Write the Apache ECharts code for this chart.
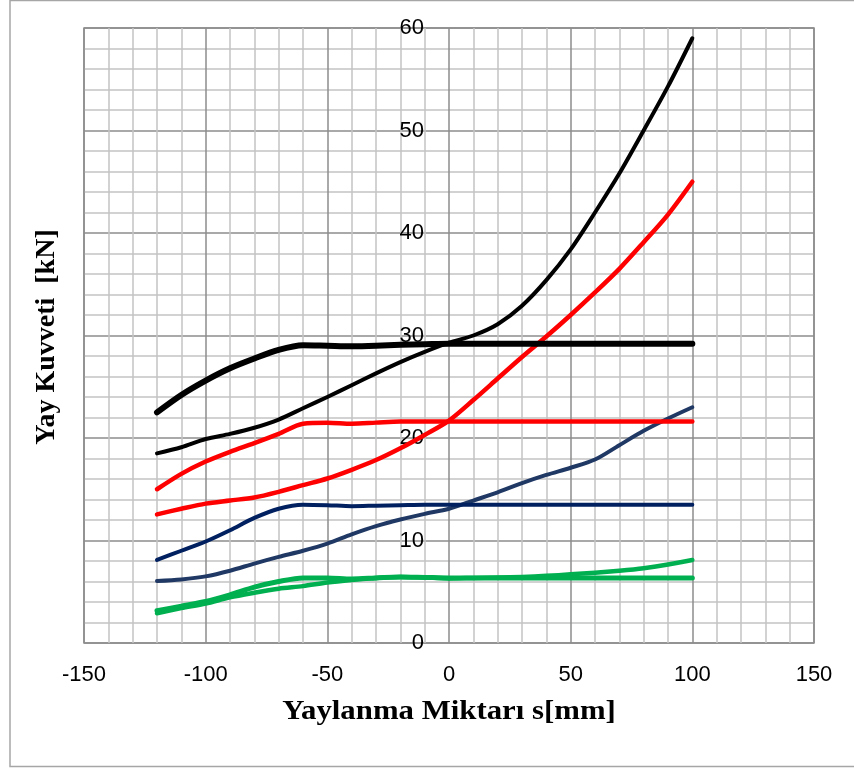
<!DOCTYPE html>
<html>
<head>
<meta charset="utf-8">
<script src="https://cdn.jsdelivr.net/npm/echarts@6/dist/echarts.min.js"></script>
<style>
html,body{margin:0;padding:0;background:#fff;}
#chart{width:854px;height:769px;}
</style>
</head>
<body>
<div id="chart"></div>
<script>
var xValues = [-120,-110,-100,-90,-80,-70,-60,-50,-40,-30,-20,-10,0,10,20,30,40,50,60,70,80,90,100];
var blackFlat = [22.5,24.2,25.6,26.8,27.75,28.6,29.05,29.0,28.95,29.0,29.1,29.15,29.2,29.2,29.2,29.2,29.2,29.2,29.2,29.2,29.2,29.2,29.2];
var blackRise = [18.5,19.1,19.9,20.4,21.0,21.8,22.9,24.0,25.15,26.3,27.4,28.4,29.3,30.0,31.1,32.9,35.4,38.4,42.0,45.8,50.0,54.3,59.0];
var redFlat = [15.0,16.5,17.7,18.65,19.5,20.4,21.4,21.5,21.4,21.5,21.6,21.6,21.6,21.6,21.6,21.6,21.6,21.6,21.6,21.6,21.6,21.6,21.6];
var redRise = [12.55,13.1,13.6,13.9,14.2,14.75,15.4,16.05,16.9,17.85,19.0,20.3,21.7,23.7,25.8,27.9,29.9,32.0,34.2,36.5,39.1,41.8,45.0];
var navyFlat = [8.1,9.0,9.9,11.0,12.2,13.1,13.5,13.45,13.35,13.4,13.45,13.5,13.5,13.5,13.5,13.5,13.5,13.5,13.5,13.5,13.5,13.5,13.5];
var navyRise = [6.05,6.2,6.5,7.05,7.75,8.4,9.0,9.7,10.6,11.4,12.05,12.6,13.1,13.9,14.7,15.6,16.4,17.1,17.9,19.3,20.7,21.9,23.0];
var greenFlat = [3.15,3.6,4.05,4.7,5.45,6.0,6.35,6.35,6.25,6.35,6.45,6.4,6.35,6.35,6.35,6.35,6.35,6.35,6.35,6.35,6.35,6.35,6.35];
var greenRise = [2.9,3.4,3.85,4.45,4.9,5.3,5.55,5.9,6.15,6.35,6.45,6.4,6.3,6.35,6.4,6.45,6.55,6.7,6.85,7.05,7.3,7.65,8.1];
var xTitle = 'Yaylanma Miktarı s[mm]';
var yTitle = 'Yay Kuvveti  [kN]';

function pairs(ys){ return xValues.map(function(x,i){ return [x, ys[i]]; }); }
function mk(name, ys, color, width, z){
  return {name:name, type:'line', data:pairs(ys), smooth:0.3, showSymbol:false, symbol:'none',
    lineStyle:{color:color, width:width, cap:'round', join:'round'}, z:z, animation:false};
}

var chart = echarts.init(document.getElementById('chart'), null, {renderer:'canvas'});
chart.setOption({
  animation:false,
  backgroundColor:'#fff',
  grid:{left:84, right:40, top:28, bottom:126, show:true, borderColor:'#8c8c8c', borderWidth:1.5, backgroundColor:'transparent'},
  xAxis:{type:'value', min:-150, max:150, interval:50,
    axisLine:{show:false, onZero:false}, axisTick:{show:false},
    axisLabel:{fontFamily:'Liberation Sans', fontSize:22, color:'#000', margin:21},
    splitLine:{show:true, lineStyle:{color:'#8c8c8c', width:1.5}},
    minorTick:{show:false, splitNumber:5},
    minorSplitLine:{show:true, lineStyle:{color:'#c4c4c4', width:1.5}}
  },
  yAxis:{type:'value', min:0, max:60, interval:10, position:'left', offset:-365,
    axisLine:{show:false, onZero:false}, axisTick:{show:false},
    axisLabel:{fontFamily:'Liberation Sans', fontSize:22, color:'#000', margin:25},
    splitLine:{show:true, lineStyle:{color:'#8c8c8c', width:1.5}},
    minorTick:{show:false, splitNumber:5},
    minorSplitLine:{show:true, lineStyle:{color:'#c4c4c4', width:1.5}}
  },
  graphic:[
    {type:'rect', shape:{x:10, y:0.5, width:860, height:766}, style:{fill:'none', stroke:'#a6a6a6', lineWidth:1.5}, z:-1, silent:true},
    {type:'text', x:449, y:712, scaleX:1.1, style:{text:xTitle, font:'bold 28px "Liberation Serif"', fill:'#000', align:'center', verticalAlign:'middle'}, silent:true},
    {type:'text', x:47, y:337, rotation:Math.PI/2, style:{text:yTitle, font:'bold 28px "Liberation Serif"', fill:'#000', align:'center', verticalAlign:'middle'}, silent:true}
  ],
  series:[
    mk('s1', greenRise, '#00b050', 4.5, 2),
    mk('s2', greenFlat, '#00b050', 5, 2),
    mk('s3', navyRise, '#1f3864', 4, 3),
    mk('s4', navyFlat, '#002060', 4, 3),
    mk('s5', redRise, '#ff0000', 4.5, 4),
    mk('s6', redFlat, '#ff0000', 4.5, 4),
    mk('s7', blackRise, '#000000', 4, 5),
    mk('s8', blackFlat, '#000000', 6, 5)
  ]
});
</script>
</body>
</html>
